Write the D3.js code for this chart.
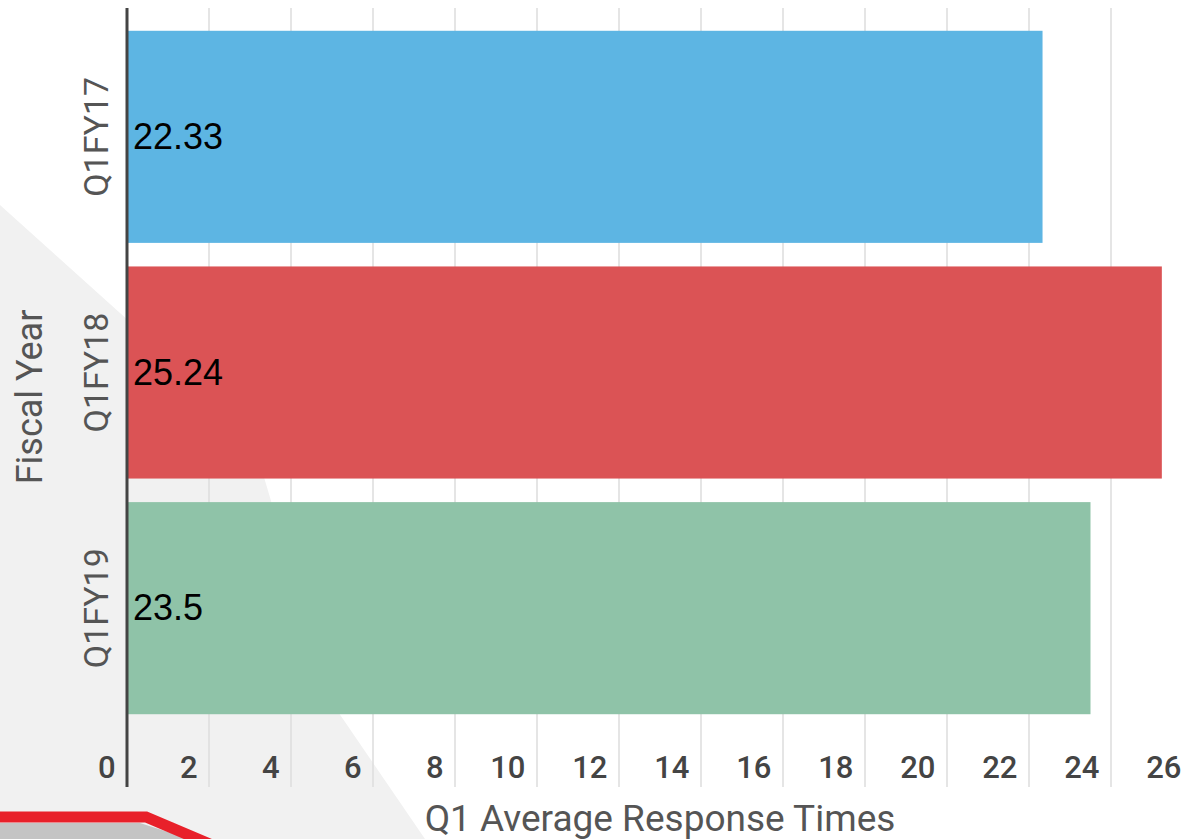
<!DOCTYPE html>
<html>
<head>
<meta charset="utf-8">
<script src="https://cdn.jsdelivr.net/npm/d3@7"></script>
<style>
  html, body { margin: 0; padding: 0; background: #fff; }
  svg { display: block; }
</style>
</head>
<body>
<div class="container"></div>
<script>
const categories = ['Q1FY17', 'Q1FY18', 'Q1FY19']
const values = [22.33, 25.24, 23.5]
const barColors = ['#5db5e3', '#db5355', '#8fc3a8']
const xTicks = [0, 2, 4, 6, 8, 10, 12, 14, 16, 18, 20, 22, 24, 26]
const xTitle = 'Q1 Average Response Times'
const yTitle = 'Fiscal Year'

const width = 1183
const height = 839
const axisX = 127
const plotTop = 8
const plotBottom = 787

const svg = d3.select('.container')
  .append('svg')
    .attr('width', width)
    .attr('height', height)

// faint slide background behind the chart
const bg = svg.append('g')
bg.append('path')
  .attr('d', 'M0,205 L250,430 L330,700 L425,839 L0,839 Z')
  .attr('fill', '#f1f1f1')
bg.append('path')
  .attr('d', 'M0,823 L140,823 L190,839 L0,839 Z')
  .attr('fill', '#c4c4c4')
bg.append('path')
  .attr('d', 'M0,817 L146,817 L212,845')
  .attr('fill', 'none')
  .attr('stroke', '#e8202a')
  .attr('stroke-width', 11)

const xScale = d3.scaleLinear()
  .domain([0, 26])
  .range([axisX, axisX + 26 * 41])

const yScale = d3.scaleBand()
  .domain(categories)
  .range([19, 726])
  .paddingInner(0.1)
  .paddingOuter(0.05)

// grid lines
svg.append('g')
  .selectAll('line')
  .data(xTicks.filter(d => d > 0))
  .enter()
  .append('line')
    .attr('x1', d => xScale(d))
    .attr('x2', d => xScale(d))
    .attr('y1', plotTop)
    .attr('y2', plotBottom)
    .attr('stroke', '#dcdcdc')
    .attr('stroke-width', 1.5)

// bars
svg.append('g')
  .selectAll('rect')
  .data(values)
  .enter()
  .append('rect')
    .attr('x', xScale(0))
    .attr('y', (d, i) => yScale(categories[i]))
    .attr('width', d => xScale(d) - xScale(0))
    .attr('height', yScale.bandwidth())
    .attr('fill', (d, i) => barColors[i])

// value labels
svg.append('g')
  .selectAll('text')
  .data(values)
  .enter()
  .append('text')
    .attr('x', xScale(0) + 6)
    .attr('y', (d, i) => yScale(categories[i]) + yScale.bandwidth() / 2 + 12)
    .attr('font-family', '"Liberation Sans", Arial, sans-serif')
    .attr('font-size', 36)
    .attr('fill', '#000')
    .text(d => d)

// y axis line
svg.append('line')
  .attr('x1', axisX)
  .attr('x2', axisX)
  .attr('y1', plotTop)
  .attr('y2', plotBottom)
  .attr('stroke', '#444')
  .attr('stroke-width', 3)

// x tick labels
svg.append('g')
  .selectAll('text')
  .data(xTicks)
  .enter()
  .append('text')
    .attr('x', d => xScale(d) - 11.5)
    .attr('y', 778)
    .attr('text-anchor', 'end')
    .attr('font-family', 'Roboto, sans-serif')
    .attr('font-weight', 500)
    .attr('font-size', 31)
    .attr('fill', '#444')
    .text(d => d)

// category labels
svg.append('g')
  .selectAll('text')
  .data(categories)
  .enter()
  .append('text')
    .attr('transform', d => `translate(108, ${yScale(d) + yScale.bandwidth() / 2}) rotate(-90)`)
    .attr('text-anchor', 'middle')
    .attr('font-family', 'Roboto, sans-serif')
    .attr('font-size', 34)
    .attr('fill', '#555')
    .text(d => d)

// axis titles
svg.append('text')
  .attr('transform', 'translate(42, 397) rotate(-90)')
  .attr('text-anchor', 'middle')
  .attr('font-family', 'Roboto, sans-serif')
  .attr('font-size', 36)
  .attr('fill', '#555')
  .text(yTitle)

svg.append('text')
  .attr('x', 660)
  .attr('y', 831)
  .attr('text-anchor', 'middle')
  .attr('font-family', 'Roboto, sans-serif')
  .attr('font-size', 37)
  .attr('fill', '#555')
  .text(xTitle)
</script>
</body>
</html>
